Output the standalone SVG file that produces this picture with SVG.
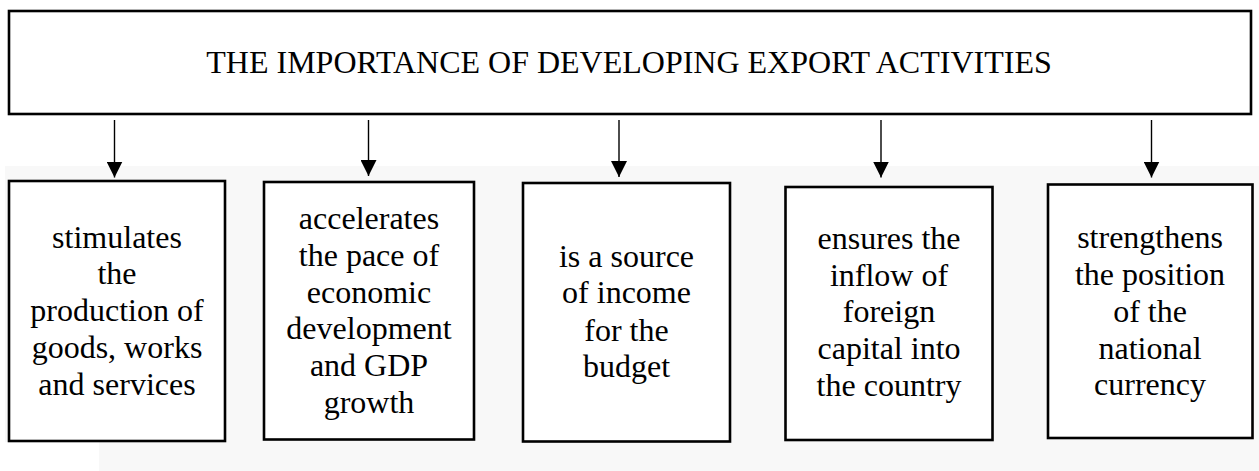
<svg xmlns="http://www.w3.org/2000/svg" width="1259" height="471" viewBox="0 0 1259 471">
  <style>
    .box { fill: #ffffff; stroke: #000000; stroke-width: 2.6; }
    .title { font-family: "Liberation Serif", "Times New Roman", serif; font-size: 32px; fill: #000000; text-anchor: middle; }
    .lbl { font-family: "Liberation Serif", "Times New Roman", serif; font-size: 32px; fill: #000000; text-anchor: middle; }
    .conn { stroke: #000000; stroke-width: 1.4; fill: none; marker-end: url(#arrow); }
  </style>
  <defs>
    <marker id="arrow" markerUnits="userSpaceOnUse" markerWidth="16" markerHeight="16" viewBox="0 0 15 15" refX="15" refY="7.5" orient="auto">
      <path d="M0,0 L15,7.5 L0,15 Z" fill="#000000"/>
    </marker>
  </defs>
  <rect x="0" y="0" width="1259" height="471" fill="#ffffff"/>
  <path d="M5,166 H1259 V471 H99 V442 H5 Z" fill="#f8f8f8"/>

  <g id="title-node">
    <rect class="box" x="9" y="11" width="1242" height="103"/>
    <text class="title" x="629" y="73">THE IMPORTANCE OF DEVELOPING EXPORT ACTIVITIES</text>
  </g>

  <g id="connectors">
    <line class="conn" x1="114.5" y1="120" x2="114.5" y2="177.5"/>
    <line class="conn" x1="368.5" y1="120" x2="368.5" y2="176"/>
    <line class="conn" x1="619" y1="120" x2="619" y2="177"/>
    <line class="conn" x1="881" y1="120" x2="881" y2="177.5"/>
    <line class="conn" x1="1151.5" y1="120" x2="1151.5" y2="177.5"/>
  </g>

  <g id="node-1">
    <rect class="box" x="9" y="181" width="216" height="260"/>
    <text class="lbl" x="117" y="247.5">stimulates</text>
    <text class="lbl" x="117" y="284.3">the</text>
    <text class="lbl" x="117" y="321">production of</text>
    <text class="lbl" x="117" y="357.8">goods, works</text>
    <text class="lbl" x="117" y="394.6">and services</text>
  </g>

  <g id="node-2">
    <rect class="box" x="264" y="182" width="210" height="257.5"/>
    <text class="lbl" x="369" y="229">accelerates</text>
    <text class="lbl" x="369" y="265.8">the pace of</text>
    <text class="lbl" x="369" y="302.6">economic</text>
    <text class="lbl" x="369" y="339.3">development</text>
    <text class="lbl" x="369" y="376">and GDP</text>
    <text class="lbl" x="369" y="412.7">growth</text>
  </g>

  <g id="node-3">
    <rect class="box" x="523" y="183" width="207" height="258.5"/>
    <text class="lbl" x="626.5" y="266.7">is a source</text>
    <text class="lbl" x="626.5" y="303.4">of income</text>
    <text class="lbl" x="626.5" y="340.5">for the</text>
    <text class="lbl" x="626.5" y="377.3">budget</text>
  </g>

  <g id="node-4">
    <rect class="box" x="785.5" y="187" width="207" height="253"/>
    <text class="lbl" x="889" y="249">ensures the</text>
    <text class="lbl" x="889" y="285.7">inflow of</text>
    <text class="lbl" x="889" y="322.4">foreign</text>
    <text class="lbl" x="889" y="359.2">capital into</text>
    <text class="lbl" x="889" y="395.8">the country</text>
  </g>

  <g id="node-5">
    <rect class="box" x="1048" y="184.5" width="204.5" height="253.5"/>
    <text class="lbl" x="1150" y="248.3">strengthens</text>
    <text class="lbl" x="1150" y="285">the position</text>
    <text class="lbl" x="1150" y="321.7">of the</text>
    <text class="lbl" x="1150" y="358.5">national</text>
    <text class="lbl" x="1150" y="395.2">currency</text>
  </g>
</svg>
